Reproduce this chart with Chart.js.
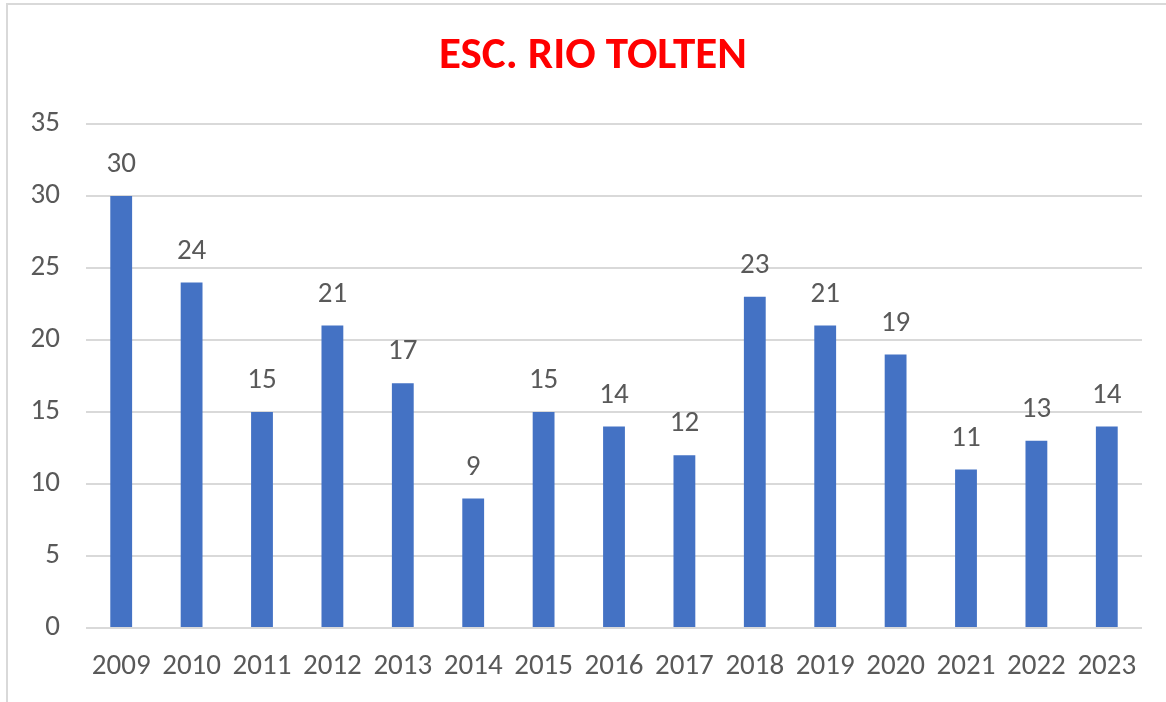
<!DOCTYPE html>
<html lang="es">
<head>
    <meta charset="utf-8" />
    <title>ESC. RIO TOLTEN</title>
    <script src="https://cdn.jsdelivr.net/npm/chart.js@4.4.1/dist/chart.umd.min.js"></script>
    <style>
        body { margin: 0; background: #fff; }
        #wrap { position: relative; width: 1166px; height: 702px; }
        #frame { position: absolute; left: 6px; top: 3px; right: 0; bottom: 0; border-top: 2px solid #d9d9d9; border-left: 2px solid #d9d9d9; }
        canvas { position: absolute; left: 0; top: 0; }
    </style>
</head>
<body>
    <div id="wrap">
        <div id="frame"></div>
        <canvas id="chart" width="1166" height="702"></canvas>
    </div>
    <script>
        const years = ['2009', '2010', '2011', '2012', '2013', '2014', '2015', '2016', '2017', '2018', '2019', '2020', '2021', '2022', '2023'];
        const values = [30, 24, 15, 21, 17, 9, 15, 14, 12, 23, 21, 19, 11, 13, 14];
        const chartTitle = 'ESC. RIO TOLTEN';

        const fontFamily = "Calibri, Carlito, 'Liberation Sans', sans-serif";
        const textColor = '#595959';

        // value above each bar
        const barLabels = {
            id: 'barLabels',
            afterDatasetsDraw(chart) {
                const ctx = chart.ctx;
                const meta = chart.getDatasetMeta(0);
                ctx.save();
                ctx.font = '29px ' + fontFamily;
                ctx.fillStyle = textColor;
                ctx.textAlign = 'center';
                ctx.textBaseline = 'middle';
                meta.data.forEach(function (bar, i) {
                    ctx.fillText(values[i], bar.x, bar.y - 31);
                });
                ctx.restore();
            }
        };

        // title sits a little right of the canvas centre, like the original
        const topTitle = {
            id: 'topTitle',
            afterDraw(chart) {
                const ctx = chart.ctx;
                ctx.save();
                ctx.font = 'bold 45px ' + fontFamily;
                ctx.fillStyle = '#FF0000';
                ctx.textAlign = 'center';
                ctx.textBaseline = 'middle';
                ctx.fillText(chartTitle, chart.width / 2 + 10, 57);
                ctx.restore();
            }
        };

        new Chart(document.getElementById('chart'), {
            type: 'bar',
            data: {
                labels: years,
                datasets: [{
                    data: values,
                    backgroundColor: '#4472C4',
                    borderWidth: 0,
                    barPercentage: 0.62,
                    categoryPercentage: 0.5
                }]
            },
            options: {
                responsive: false,
                animation: false,
                layout: { padding: { left: 20, right: 24, top: 124, bottom: 0 } },
                plugins: {
                    legend: { display: false },
                    tooltip: { enabled: false },
                    title: { display: false }
                },
                scales: {
                    y: {
                        min: 0,
                        max: 35,
                        ticks: { stepSize: 5, color: textColor, font: { family: fontFamily, size: 29 }, padding: 26 },
                        grid: { color: '#d9d9d9', lineWidth: 2, drawTicks: false },
                        border: { display: false },
                        afterFit(axis) { axis.width = 66; }
                    },
                    x: {
                        ticks: { color: textColor, font: { family: fontFamily, size: 29 }, padding: 21, maxRotation: 0 },
                        grid: { display: false, drawTicks: false },
                        border: { display: false },
                        afterFit(axis) { axis.height = 74; }
                    }
                }
            },
            plugins: [barLabels, topTitle]
        });
    </script>
</body>
</html>
